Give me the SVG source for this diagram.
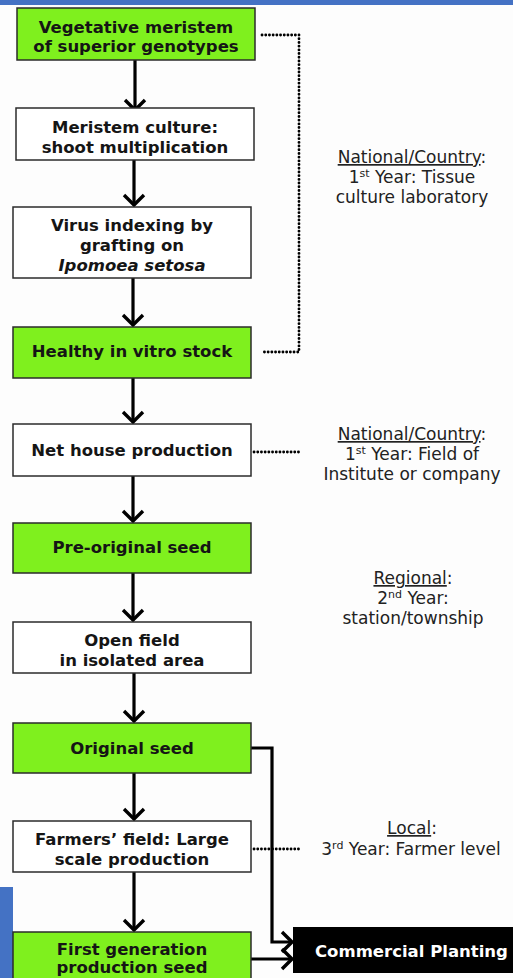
<svg xmlns="http://www.w3.org/2000/svg" width="513" height="978" viewBox="0 0 513 978">
  <style>
    .g { fill: #7ff01e; stroke: #2b2b2b; stroke-width: 1.5; }
    .w { fill: #ffffff; stroke: #2b2b2b; stroke-width: 1.5; }
    .bt { font-family: "DejaVu Sans", Verdana, sans-serif; font-weight: bold; font-size: 16.5px; fill: #151515; text-anchor: middle; }
    .lt { font-family: "DejaVu Sans", Verdana, sans-serif; font-size: 17px; fill: #222; text-anchor: middle; }
    .sup { font-size: 11px; }
    .u { text-decoration: underline; }
    .arr { fill: none; stroke: #000; stroke-width: 3.2; marker-end: url(#chev); }
    .dot { fill: none; stroke: #000; stroke-width: 2.8; stroke-linecap: round; stroke-dasharray: 0.1 3.6; }
  </style>
  <defs>
    <marker id="chev" viewBox="-13 -12 15 24" refX="0" refY="0" markerWidth="15" markerHeight="24" markerUnits="userSpaceOnUse" orient="auto">
      <path d="M-10,-10 L0,0 L-10,10" fill="none" stroke="#000" stroke-width="3.4"/>
    </marker>
  </defs>
  <rect x="0" y="0" width="513" height="978" fill="#fdfdfd"/>
  <rect id="topbar" x="0" y="0" width="513" height="5" fill="#4472c4"/>
  <rect id="sidebar" x="0" y="887" width="13" height="91" fill="#4472c4"/>

  <g id="connectors">
    <path class="arr" d="M135,60 V110"/>
    <path class="arr" d="M134,160 V205"/>
    <path class="arr" d="M133,278 V325"/>
    <path class="arr" d="M133,378 V422"/>
    <path class="arr" d="M133,476 V521"/>
    <path class="arr" d="M133,573 V620"/>
    <path class="arr" d="M134,673 V721"/>
    <path class="arr" d="M134,773 V819"/>
    <path class="arr" d="M134,872 V930"/>
    <path class="arr" d="M251,748 H272 V942 H292"/>
    <path class="arr" d="M251,959 H292"/>
    <path class="dot" d="M262,35 H299 V352 H262"/>
    <path class="dot" d="M254,452 H302"/>
    <path class="dot" d="M254,849 H300"/>
  </g>

  <g id="n1">
    <rect class="g" x="17" y="8" width="238" height="52"/>
    <text class="bt" x="136" y="33">Vegetative meristem</text>
    <text class="bt" x="136" y="52">of superior genotypes</text>
  </g>
  <g id="n2">
    <rect class="w" x="16" y="108" width="238" height="52"/>
    <text class="bt" x="135" y="133">Meristem culture:</text>
    <text class="bt" x="135" y="153">shoot multiplication</text>
  </g>
  <g id="n3">
    <rect class="w" x="13" y="207" width="238" height="71"/>
    <text class="bt" x="132" y="231">Virus indexing by</text>
    <text class="bt" x="132" y="251">grafting on</text>
    <text class="bt" x="132" y="271" font-style="italic">Ipomoea setosa</text>
  </g>
  <g id="n4">
    <rect class="g" x="13" y="327" width="238" height="51"/>
    <text class="bt" x="132" y="357">Healthy in vitro stock</text>
  </g>
  <g id="n5">
    <rect class="w" x="13" y="424" width="238" height="52"/>
    <text class="bt" x="132" y="456">Net house production</text>
  </g>
  <g id="n6">
    <rect class="g" x="13" y="523" width="238" height="50"/>
    <text class="bt" x="132" y="553">Pre-original seed</text>
  </g>
  <g id="n7">
    <rect class="w" x="13" y="622" width="238" height="51"/>
    <text class="bt" x="132" y="646">Open field</text>
    <text class="bt" x="132" y="666">in isolated area</text>
  </g>
  <g id="n8">
    <rect class="g" x="13" y="723" width="238" height="50"/>
    <text class="bt" x="132" y="754">Original seed</text>
  </g>
  <g id="n9">
    <rect class="w" x="13" y="821" width="238" height="51"/>
    <text class="bt" x="132" y="845">Farmers’ field: Large</text>
    <text class="bt" x="132" y="865">scale production</text>
  </g>
  <g id="n10">
    <rect class="g" x="13" y="932" width="238" height="60"/>
    <text class="bt" x="132" y="955">First generation</text>
    <text class="bt" x="132" y="973">production seed</text>
  </g>
  <g id="n11">
    <rect x="293" y="927" width="230" height="46" fill="#000"/>
    <text class="bt" x="315" y="957" style="fill:#fff;text-anchor:start">Commercial Planting</text>
  </g>

  <g id="label1">
    <text class="lt" x="412" y="163"><tspan class="u">National/Country</tspan>:</text>
    <text class="lt" x="412" y="183">1<tspan class="sup" baseline-shift="super">st</tspan> Year: Tissue</text>
    <text class="lt" x="412" y="203">culture laboratory</text>
  </g>
  <g id="label2">
    <text class="lt" x="412" y="440"><tspan class="u">National/Country</tspan>:</text>
    <text class="lt" x="412" y="460">1<tspan class="sup" baseline-shift="super">st</tspan> Year: Field of</text>
    <text class="lt" x="412" y="480">Institute or company</text>
  </g>
  <g id="label3">
    <text class="lt" x="413" y="584"><tspan class="u">Regional</tspan>:</text>
    <text class="lt" x="413" y="604">2<tspan class="sup" baseline-shift="super">nd</tspan> Year:</text>
    <text class="lt" x="413" y="624">station/township</text>
  </g>
  <g id="label4">
    <text class="lt" x="412" y="834"><tspan class="u">Local</tspan>:</text>
    <text class="lt" x="411" y="855">3<tspan class="sup" baseline-shift="super">rd</tspan> Year: Farmer level</text>
  </g>
</svg>
